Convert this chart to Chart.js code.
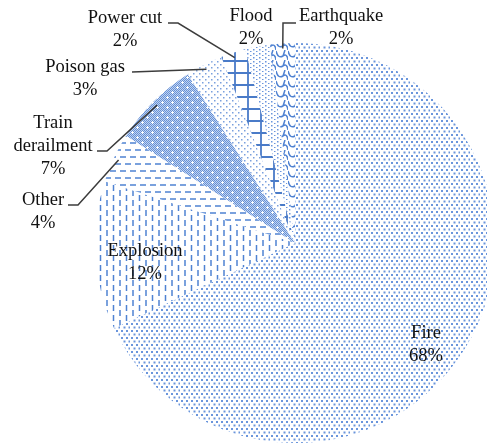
<!DOCTYPE html>
<html>
<head>
<meta charset="utf-8">
<script src="https://cdn.jsdelivr.net/npm/chart.js@4/dist/chart.umd.min.js"></script>
<style>
  html, body { margin: 0; padding: 0; background: #fff; overflow: hidden; }
  #wrap { width: 500px; height: 446px; }
</style>
</head>
<body>
<div id="wrap"><canvas id="c" width="500" height="446"></canvas></div>
<script>
// Causes of incidents, share in percent (clockwise from 12 o'clock)
const categories = ['Fire', 'Explosion', 'Other', 'Train derailment', 'Poison gas', 'Power cut', 'Flood', 'Earthquake'];
const shares = [68, 12, 4, 7, 3, 2, 2, 2];
const pctLabels = shares.map(v => v + '%');

// Label placement: x = centre of text, y = baseline of first line,
// wrap = split name into words, leader = fixed points on the label side
const labelLayout = [
  { x: 426, y: 338, wrap: false, leader: null },
  { x: 145, y: 256, wrap: false, leader: null },
  { x: 43,  y: 205, wrap: false, leader: [[68, 205], [78, 205]] },
  { x: 53,  y: 128, wrap: true,  leader: [[97, 151], [107, 151]] },
  { x: 85,  y: 72,  wrap: false, leader: [[132, 72]] },
  { x: 125, y: 23,  wrap: false, leader: [[168, 23], [178, 23]] },
  { x: 251, y: 21,  wrap: false, leader: null },
  { x: 341, y: 21,  wrap: false, leader: [[296, 23], [283, 23]] }
];
const LINE_H = 23;
const FONT = '18.5px "Liberation Serif", "Times New Roman", serif';

const ctxMain = document.getElementById('c').getContext('2d');

function tile(w, h, draw) {
  const c = document.createElement('canvas');
  c.width = w; c.height = h;
  const g = c.getContext('2d');
  g.fillStyle = '#ffffff';
  g.fillRect(0, 0, w, h);
  draw(g, w, h);
  return ctxMain.createPattern(c, 'repeat');
}

const BLUE = '#4f82d2';

const patterns = [
  // Fire: fine staggered dots
  tile(10, 7, g => {
    g.fillStyle = '#6a95dc';
    [[1, 1], [6, 1], [3.5, 4.5], [8.5, 4.5]].forEach(([x, y]) => g.fillRect(x, y, 2, 2));
  }),
  // Explosion: staggered vertical dashes
  tile(13, 10, g => {
    g.strokeStyle = BLUE; g.lineWidth = 1.5;
    g.beginPath();
    g.moveTo(3, 0); g.lineTo(3, 6);
    g.moveTo(9.5, 5); g.lineTo(9.5, 10);
    g.moveTo(9.5, 0); g.lineTo(9.5, 1);
    g.stroke();
  }),
  // Other: staggered horizontal dashes
  tile(10, 14, g => {
    g.strokeStyle = BLUE; g.lineWidth = 1.5;
    g.beginPath();
    g.moveTo(0, 3); g.lineTo(6, 3);
    g.moveTo(5, 10); g.lineTo(10, 10);
    g.moveTo(0, 10); g.lineTo(1, 10);
    g.stroke();
  }),
  // Train derailment: fine checker with white crosses
  tile(10, 10, g => {
    for (let y = 0; y < 10; y++) {
      for (let x = 0; x < 10; x++) {
        g.fillStyle = (x + y) % 2 === 0 ? '#6590d6' : '#c2d4f1';
        g.fillRect(x, y, 1, 1);
      }
    }
    g.fillStyle = '#ffffff';
    [[2, 2], [7, 7]].forEach(([x, y]) => {
      g.fillRect(x - 1, y, 3, 1);
      g.fillRect(x, y - 1, 1, 3);
    });
  }),
  // Poison gas: sparse dots
  tile(6, 6, g => {
    g.fillStyle = '#7aa0de';
    [[1, 1], [4, 4]].forEach(([x, y]) => g.fillRect(x, y, 1.5, 1.5));
  }),
  // Power cut: large grid
  tile(13, 12, g => {
    g.strokeStyle = '#4a7bc8'; g.lineWidth = 1.8;
    g.beginPath();
    g.moveTo(1, 0); g.lineTo(1, 12);
    g.moveTo(0, 1); g.lineTo(13, 1);
    g.stroke();
  }),
  // Flood: dense dots
  tile(6, 4, g => {
    g.fillStyle = '#6a95dc';
    [[1, 1], [4, 3]].forEach(([x, y]) => g.fillRect(x, y, 1.5, 1.5));
  }),
  // Earthquake: chained scallops
  tile(12, 10, g => {
    g.strokeStyle = BLUE; g.lineWidth = 1.5;
    g.beginPath();
    g.moveTo(0, 1);
    g.quadraticCurveTo(2, 9, 7, 6);
    g.quadraticCurveTo(11, 3, 12, 10);
    g.moveTo(7, 6);
    g.lineTo(9, 0);
    g.stroke();
  })
];

const sliceLabels = {
  id: 'sliceLabels',
  afterDatasetsDraw(chart) {
    const ctx = chart.ctx;
    const arcs = chart.getDatasetMeta(0).data;
    ctx.save();
    // leader lines
    ctx.strokeStyle = '#3c3c3c';
    ctx.lineWidth = 1.5;
    arcs.forEach((arc, i) => {
      const lay = labelLayout[i];
      if (!lay.leader) return;
      const p = arc.getProps(['x', 'y', 'startAngle', 'endAngle', 'outerRadius'], true);
      const mid = (p.startAngle + p.endAngle) / 2;
      const r = p.outerRadius * 0.975;
      const ex = p.x + Math.cos(mid) * r;
      const ey = p.y + Math.sin(mid) * r;
      ctx.beginPath();
      ctx.moveTo(lay.leader[0][0], lay.leader[0][1]);
      for (let k = 1; k < lay.leader.length; k++) ctx.lineTo(lay.leader[k][0], lay.leader[k][1]);
      ctx.lineTo(ex, ey);
      ctx.stroke();
    });
    // texts
    ctx.fillStyle = '#111111';
    ctx.font = FONT;
    ctx.textAlign = 'center';
    ctx.textBaseline = 'alphabetic';
    arcs.forEach((arc, i) => {
      const lay = labelLayout[i];
      const lines = lay.wrap ? categories[i].split(' ') : [categories[i]];
      lines.push(pctLabels[i]);
      lines.forEach((t, k) => ctx.fillText(t, lay.x, lay.y + k * LINE_H));
    });
    ctx.restore();
  }
};

new Chart(document.getElementById('c'), {
  type: 'pie',
  data: {
    labels: categories,
    datasets: [{
      data: shares,
      backgroundColor: patterns,
      borderWidth: 0,
      hoverOffset: 0,
      offset: 0
    }]
  },
  options: {
    responsive: false,
    animation: false,
    devicePixelRatio: 1,
    layout: { padding: { left: 95, right: 5, top: 43, bottom: 3 } },
    plugins: {
      legend: { display: false },
      tooltip: { enabled: false }
    },
    events: []
  },
  plugins: [sliceLabels]
});
</script>
</body>
</html>
